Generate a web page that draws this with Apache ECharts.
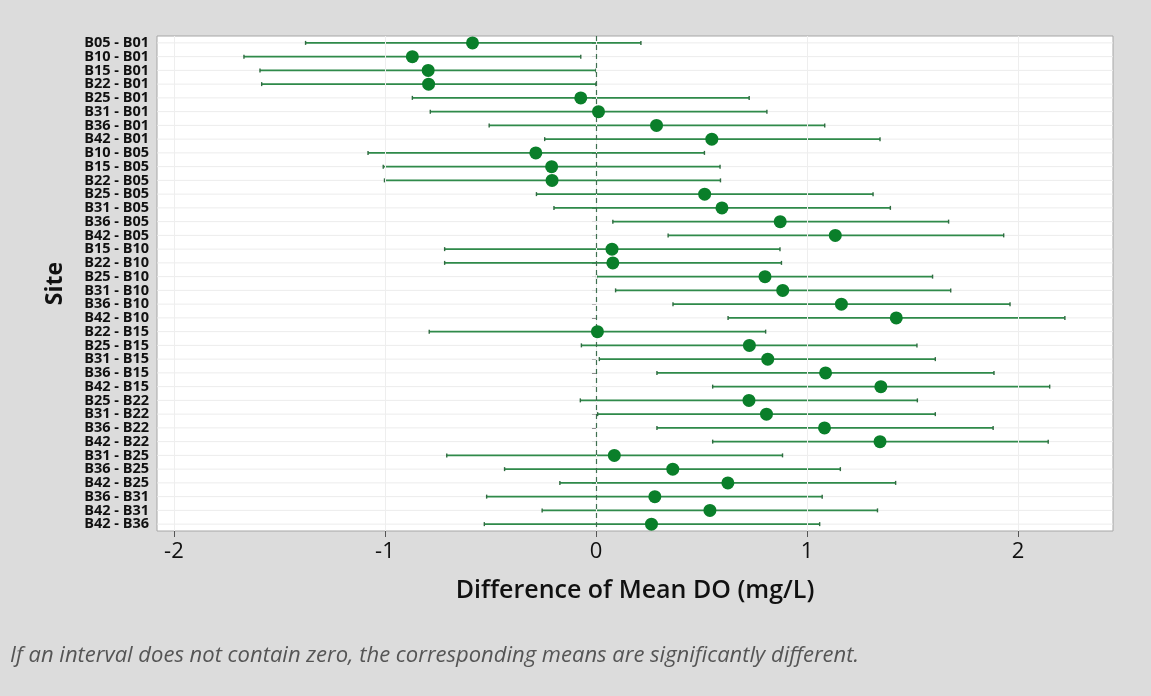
<!DOCTYPE html>
<html>
<head>
<meta charset="utf-8">
<script src="https://cdn.jsdelivr.net/npm/echarts@6/dist/echarts.min.js"></script>
<style>
html,body{margin:0;padding:0;background:#dcdcdc;}
#chart{width:1151px;height:696px;}
</style>
</head>
<body>
<div id="chart"></div>
<script>
const categories = ["B05 - B01","B10 - B01","B15 - B01","B22 - B01","B25 - B01","B31 - B01","B36 - B01","B42 - B01",
  "B10 - B05","B15 - B05","B22 - B05","B25 - B05","B31 - B05","B36 - B05","B42 - B05",
  "B15 - B10","B22 - B10","B25 - B10","B31 - B10","B36 - B10","B42 - B10",
  "B22 - B15","B25 - B15","B31 - B15","B36 - B15","B42 - B15",
  "B25 - B22","B31 - B22","B36 - B22","B42 - B22",
  "B31 - B25","B36 - B25","B42 - B25",
  "B36 - B31","B42 - B31","B42 - B36"];
const means = [-0.585,-0.870,-0.795,-0.793,-0.072,0.012,0.287,0.549,
  -0.285,-0.210,-0.208,0.515,0.597,0.873,1.134,
  0.076,0.080,0.801,0.885,1.163,1.423,
  0.007,0.727,0.814,1.088,1.350,
  0.725,0.808,1.083,1.346,
  0.087,0.364,0.625,
  0.279,0.540,0.263];
const lowers = [-1.376,-1.668,-1.592,-1.584,-0.870,-0.785,-0.506,-0.243,
  -1.080,-1.008,-1.002,-0.282,-0.199,0.080,0.342,
  -0.717,-0.717,0.003,0.093,0.365,0.626,
  -0.790,-0.069,0.016,0.289,0.553,
  -0.074,0.008,0.289,0.553,
  -0.707,-0.433,-0.171,
  -0.518,-0.255,-0.529];
const uppers = [0.213,-0.072,0.000,0.000,0.726,0.810,1.084,1.346,
  0.514,0.588,0.590,1.313,1.395,1.671,1.932,
  0.872,0.879,1.595,1.681,1.962,2.222,
  0.804,1.521,1.608,1.886,2.150,
  1.523,1.608,1.882,2.143,
  0.884,1.158,1.420,
  1.072,1.334,1.060];
const xTicks = [-2,-1,0,1,2];
const xMin = -2.08, xMax = 2.45;

const chart = echarts.init(document.getElementById('chart'));
const intervalData = categories.map((c,i)=>[i, lowers[i], uppers[i]]);
const pointData = categories.map((c,i)=>[means[i], i]);
const labelFont = "'Open Sans', 'Noto Sans', sans-serif";

chart.setOption({
  backgroundColor: '#dcdcdc',
  animation: false,
  grid: {left:157, right:38, top:36, bottom:165, show:true, backgroundColor:'#ffffff', borderColor:'#a6a6a6', borderWidth:1},
  xAxis: {
    type:'value', min:xMin, max:xMax,
    axisLine:{show:false},
    axisTick:{show:true, customValues:xTicks, length:6, lineStyle:{color:'#555'}},
    axisLabel:{customValues:xTicks, fontSize:22, color:'#111', margin:10, fontFamily:labelFont},
    splitLine:{show:false},
    name:'Difference of Mean DO (mg/L)', nameLocation:'middle', nameGap:47,
    nameTextStyle:{fontSize:25, fontWeight:600, color:'#111', fontFamily:labelFont}
  },
  yAxis: {
    type:'category', data:categories, inverse:true,
    axisLine:{show:false},
    axisTick:{show:true, alignWithLabel:true, length:4, lineStyle:{color:'#555'}},
    axisLabel:{fontSize:14.5, fontWeight:'bold', color:'#111', margin:8, fontFamily:labelFont, interval:0},
    splitLine:{show:false},
    name:'Site', nameLocation:'middle', nameGap:90, nameRotate:90,
    nameTextStyle:{fontSize:23, fontWeight:'bold', color:'#111', fontFamily:labelFont}
  },
  series: [
    {
      type:'custom',
      data: intervalData,
      encode:{y:0, x:[1,2]},
      renderItem: function(params, api){
        const idx = api.value(0);
        const p1 = api.coord([api.value(1), idx]);
        const p2 = api.coord([api.value(2), idx]);
        const cs = params.coordSys;
        const y = p1[1];
        return {
          type:'group',
          children:[
            {type:'line', shape:{x1:cs.x, y1:y, x2:cs.x+cs.width, y2:y}, style:{stroke:'#ececec', lineWidth:1}, z2:0},
            {type:'line', shape:{x1:p1[0], y1:y, x2:p2[0], y2:y}, style:{stroke:'#2f8a4a', lineWidth:1.6}, z2:2},
            {type:'line', shape:{x1:p1[0], y1:y-2, x2:p1[0], y2:y+2}, style:{stroke:'#2f6b40', lineWidth:1.4}, z2:2},
            {type:'line', shape:{x1:p2[0], y1:y-2, x2:p2[0], y2:y+2}, style:{stroke:'#2f6b40', lineWidth:1.4}, z2:2}
          ]
        };
      },
      markLine:{
        silent:true, symbol:'none', label:{show:false},
        data: xTicks.map(v=>({xAxis:v, lineStyle:{color:'#eeeeee', type:'solid', width:1}}))
          .concat([{xAxis:0, lineStyle:{color:'#3f6f50', type:[5,4], width:1.2}}])
      },
      z:2
    },
    {
      type:'scatter',
      data: pointData,
      symbol:'circle', symbolSize:13,
      itemStyle:{color:'#0a7f2a', opacity:1},
      z:5
    }
  ],
  graphic: [
    {type:'text', left:10, top:645, style:{text:'If an interval does not contain zero, the corresponding means are significantly different.', fontSize:22, fontStyle:'italic', fill:'#555', fontFamily:labelFont}}
  ]
});
</script>
</body>
</html>
